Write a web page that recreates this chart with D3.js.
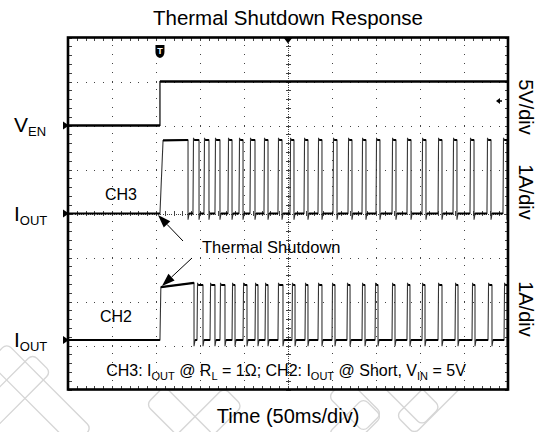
<!DOCTYPE html>
<html><head><meta charset="utf-8">
<script src="https://cdn.jsdelivr.net/npm/d3@7/dist/d3.min.js"></script>
<style>
html,body{margin:0;padding:0;background:#fff;}
svg{display:block;font-family:"Liberation Sans",Arial,Helvetica,sans-serif;}
</style></head>
<body>
<svg id="chart" width="544" height="432"></svg>
<script>
// ---------------- data ----------------
const timeDomainMs = [0, 500];            // 10 div x 50 ms/div
const divDomain = [-4, 4];                // 8 vertical divisions
const majorTimeTicks = [0, 50, 100, 150, 200, 250, 300, 350, 400, 450, 500];
const majorDivTicks = [-4, -3, -2, -1, 0, 1, 2, 3, 4];
const minorTimeStep = 10;
const minorDivStep = 0.2;

const channelNames = ["VEN", "CH3", "CH2"];
const channelOffsetDiv = [2, 0, -2.875];
const channelUnitsPerDiv = [5, 1, 1];
const channelScaleLabels = ["5V/div", "1A/div", "1A/div"];

const venStepMs = 104.5;
const venLevelsV = [0, 5];

// CH3: I_OUT @ RL = 1 ohm
const ch3FirstPulseMs = [104.5, 108, 136.4];   // rise start, rise end, fall
const ch3FirstPulseA = [1.66, 1.67];
const ch3RiseMs = [142.0,154.5,167.0,181.8,194.3,206.8,222.7,238.6,252.3,268.2,284.1,301.1,318.2,334.1,350.0,368.2,385.2,402.3,420.5,437.5,456.8,476.1,494.3];
const ch3FallMs = [148.9,160.2,172.7,186.4,198.9,212.5,227.3,243.2,256.8,272.7,288.6,305.7,322.7,338.6,354.5,372.7,389.8,406.8,425.0,442.0,461.4,480.7,498.9];
const ch3HighA = 1.67;

// CH2: I_OUT @ short
const ch2FirstPulseMs = [104.5, 105.5, 143.2];
const ch2FirstPulseA = [1.20, 1.30];
const ch2RiseMs = [146.6,161.4,172.7,186.4,198.9,212.5,223.9,238.6,254.5,269.3,284.1,300.0,317.0,334.1,348.9,368.2,385.2,402.3,420.5,439.8,459.1,477.3,495.5];
const ch2FallMs = [153.4,167.0,178.4,189.8,203.4,215.9,227.3,244.3,258.0,272.7,288.6,303.4,320.5,337.5,352.3,371.6,388.6,405.7,425.0,443.2,462.5,481.8,498.9];
const ch2HighA = 1.25;

// ---------------- drawing ----------------
const svg = d3.select("#chart");
const x = d3.scaleLinear().domain(timeDomainMs).range([68, 508]);
const y = d3.scaleLinear().domain(divDomain).range([389.5, 37.5]);
const X0 = x.range()[0], X1 = x.range()[1];
const Y0 = y.range()[1], Y1 = y.range()[0];
const minorT = d3.range(timeDomainMs[0], timeDomainMs[1] + 0.001, minorTimeStep);
const minorD = d3.range(divDomain[0], divDomain[1] + 0.001, minorDivStep).map(v => +v.toFixed(2));
const sig = (ch, v) => y(channelOffsetDiv[ch] + v / channelUnitsPerDiv[ch]);

// faint background watermark (decoration)
const wm = svg.append("g").attr("fill", "none").attr("stroke", "#d6d6d6").attr("stroke-width", 1.4);
const wmBands = [
  [40, 395, 45, 120], [10, 395, -45, 90], [205, 425, -45, 80], [180, 420, 45, 70],
  [355, 405, 45, 50], [355, 425, -45, 50], [430, 400, -45, 70], [410, 395, 45, 60]
];
wmBands.forEach(b => {
  wm.append("rect").attr("x", -b[3] / 2).attr("y", -13).attr("width", b[3]).attr("height", 26).attr("rx", 6)
    .attr("transform", `translate(${b[0]},${b[1]}) rotate(${b[2]})`);
});

// plot background
svg.append("rect").attr("x", X0).attr("y", Y0).attr("width", X1 - X0).attr("height", Y1 - Y0).attr("fill", "#fff");

const gridColor = "#444";
function styleAxis(g, dash) {
  g.select(".domain").remove();
  g.selectAll("text").remove();
  g.selectAll("line").attr("stroke", gridColor).attr("stroke-width", 1)
    .attr("stroke-dasharray", dash || null).attr("shape-rendering", "crispEdges");
}

// major grid (dotted)
svg.append("g").attr("transform", `translate(0,${Y1})`)
  .call(d3.axisBottom(x).tickValues(majorTimeTicks.filter(t => t > 0 && t < 500 && t !== 250)).tickSize(-(Y1 - Y0)).tickFormat(""))
  .call(g => styleAxis(g, "1 7.8"));
svg.append("g").attr("transform", `translate(${X0},0)`)
  .call(d3.axisLeft(y).tickValues(majorDivTicks.filter(d => d > -4 && d < 4 && d !== 0)).tickSize(-(X1 - X0)).tickFormat(""))
  .call(g => styleAxis(g, "1 7.8"));

// center cross lines (dense) with minor ticks
svg.append("g").attr("transform", `translate(0,${Y1})`)
  .call(d3.axisBottom(x).tickValues([250]).tickSize(-(Y1 - Y0)).tickFormat(""))
  .call(g => styleAxis(g, "1 1.2"));
svg.append("g").attr("transform", `translate(${X0},0)`)
  .call(d3.axisLeft(y).tickValues([0]).tickSize(-(X1 - X0)).tickFormat(""))
  .call(g => styleAxis(g, "1 1.2"));
[d3.axisLeft, d3.axisRight].forEach(a => {
  svg.append("g").attr("transform", `translate(${x(250)},0)`)
    .call(a(y).tickValues(minorD).tickSize(2.5).tickFormat("")).call(g => styleAxis(g));
});
[d3.axisTop, d3.axisBottom].forEach(a => {
  svg.append("g").attr("transform", `translate(0,${y(0)})`)
    .call(a(x).tickValues(minorT).tickSize(2.5).tickFormat("")).call(g => styleAxis(g));
});

// frame minor ticks (inward)
svg.append("g").attr("transform", `translate(0,${Y0})`).call(d3.axisTop(x).tickValues(minorT).tickSize(-3.5).tickFormat("")).call(g => styleAxis(g));
svg.append("g").attr("transform", `translate(0,${Y1})`).call(d3.axisBottom(x).tickValues(minorT).tickSize(-3.5).tickFormat("")).call(g => styleAxis(g));
svg.append("g").attr("transform", `translate(${X0},0)`).call(d3.axisLeft(y).tickValues(minorD).tickSize(-3.5).tickFormat("")).call(g => styleAxis(g));
svg.append("g").attr("transform", `translate(${X1},0)`).call(d3.axisRight(y).tickValues(minorD).tickSize(-3.5).tickFormat("")).call(g => styleAxis(g));

// clip
svg.append("clipPath").attr("id", "plotclip").append("rect")
  .attr("x", X0).attr("y", Y0).attr("width", X1 - X0).attr("height", Y1 - Y0);
const traces = svg.append("g").attr("clip-path", "url(#plotclip)");

const undershoot = 0.14, overshoot = 0.05;
function pulseTrain(first, firstLv, rises, falls, high) {
  const pts = [[0, 0], [first[0], 0], [first[1], firstLv[0]], [first[2], firstLv[1]], [first[2], -undershoot], [first[2] + 1.2, 0]];
  rises.forEach((r, i) => {
    const f = falls[i];
    pts.push([r, 0], [r + 0.6, high + overshoot], [r + 1.4, high], [f, high], [f, -undershoot], [f + 1.2, 0]);
  });
  const out = pts.filter(p => p[0] <= timeDomainMs[1]);
  out.push([timeDomainMs[1], out[out.length - 1][1] > 0.5 ? high : 0]);
  return out;
}
function flats(first, firstLv, rises, falls, high) {
  const segs = [[[0, 0], [first[0], 0]], [[first[1], firstLv[0]], [first[2], firstLv[1]]]];
  let lastEnd = first[2] + 1.2;
  rises.forEach((r, i) => {
    segs.push([[lastEnd, 0], [r, 0]]);
    segs.push([[r + 1.4, high], [falls[i], high]]);
    lastEnd = falls[i] + 1.2;
  });
  if (lastEnd < timeDomainMs[1]) segs.push([[lastEnd, 0], [timeDomainMs[1], 0]]);
  return segs;
}

function drawChannel(ch, pts, segs) {
  const line = d3.line().x(d => x(d[0])).y(d => sig(ch, d[1]));
  traces.append("path").attr("d", line(pts)).attr("fill", "none").attr("stroke", "#333").attr("stroke-width", 1.1);
  segs.forEach(s => {
    traces.append("path").attr("d", line(s)).attr("fill", "none").attr("stroke", "#000").attr("stroke-width", 2.2);
  });
}

// VEN
const venPts = [[timeDomainMs[0], venLevelsV[0]], [venStepMs, venLevelsV[0]], [venStepMs, venLevelsV[1]], [timeDomainMs[1], venLevelsV[1]]];
const venLine = d3.line().x(d => x(d[0])).y(d => sig(0, d[1]));
traces.append("path").attr("d", venLine(venPts)).attr("fill", "none").attr("stroke", "#000").attr("stroke-width", 1.2);
traces.append("path").attr("d", venLine(venPts.slice(0, 2))).attr("fill", "none").attr("stroke", "#000").attr("stroke-width", 2.6);
traces.append("path").attr("d", venLine(venPts.slice(2))).attr("fill", "none").attr("stroke", "#000").attr("stroke-width", 2.4);

drawChannel(1, pulseTrain(ch3FirstPulseMs, ch3FirstPulseA, ch3RiseMs, ch3FallMs, ch3HighA), flats(ch3FirstPulseMs, ch3FirstPulseA, ch3RiseMs, ch3FallMs, ch3HighA));
drawChannel(2, pulseTrain(ch2FirstPulseMs, ch2FirstPulseA, ch2RiseMs, ch2FallMs, ch2HighA), flats(ch2FirstPulseMs, ch2FirstPulseA, ch2RiseMs, ch2FallMs, ch2HighA));

// frame
svg.append("rect").attr("x", X0).attr("y", Y0).attr("width", X1 - X0).attr("height", Y1 - Y0)
  .attr("fill", "none").attr("stroke", "#000").attr("stroke-width", 2.6);

// channel ground markers on the left
channelOffsetDiv.forEach((o, i) => {
  const yy = y(o);
  svg.append("path").attr("d", `M${X0 - 5},${yy - 4}L${X0 + 1},${yy}L${X0 - 5},${yy + 4}Z`).attr("fill", "#000");
});
// top center marker
svg.append("path").attr("d", `M${x(250) - 4.5},${Y0}L${x(250) + 4.5},${Y0}L${x(250)},${Y0 + 6}Z`).attr("fill", "#000");
// trigger marker
const tx = x(venStepMs);
svg.append("path").attr("d", `M${tx - 4.5},45h9v7q0,5 -4.5,6q-4.5,-1 -4.5,-6Z`).attr("fill", "#000");
svg.append("text").attr("x", tx).attr("y", 54).attr("text-anchor", "middle").attr("font-size", 9).attr("font-weight", "bold").attr("fill", "#fff").text("T");
// trigger level marker on right
const ty = 101;
svg.append("path").attr("d", `M${X1 - 12},${ty}L${X1 - 8},${ty - 3}L${X1 - 8},${ty + 3}Z`).attr("fill", "#000");
svg.append("line").attr("x1", X1 - 9).attr("x2", X1 - 6).attr("y1", ty).attr("y2", ty).attr("stroke", "#000").attr("stroke-width", 1.5);

// annotation arrows
function arrow(x1, y1, x2, y2) {
  const ang = Math.atan2(y2 - y1, x2 - x1), L = 13, Wd = 4.5;
  const bx = x2 - L * Math.cos(ang), by = y2 - L * Math.sin(ang);
  svg.append("line").attr("x1", x1).attr("y1", y1).attr("x2", bx).attr("y2", by).attr("stroke", "#000").attr("stroke-width", 1);
  const px = -Math.sin(ang) * Wd, py = Math.cos(ang) * Wd;
  svg.append("path").attr("d", `M${x2},${y2}L${bx + px},${by + py}L${bx - px},${by - py}Z`).attr("fill", "#000");
}
arrow(183, 241, 158, 215);
arrow(192, 258, 162, 286);

// ---------------- texts ----------------
const T = (xx, yy, size, anchor) => svg.append("text").attr("x", xx).attr("y", yy).attr("font-size", size).attr("text-anchor", anchor || "start").attr("fill", "#000");
T(288, 25, 20.5, "middle").text("Thermal Shutdown Response");
T(288, 423, 20, "middle").text("Time (50ms/div)");

function subLabel(xx, yy, main, sub) {
  const t = T(xx, yy, 21);
  t.append("tspan").text(main);
  t.append("tspan").attr("font-size", 13).attr("dy", 4).text(sub);
}
subLabel(14, 132, "V", "EN");
subLabel(14, 220.5, "I", "OUT");
subLabel(14, 347, "I", "OUT");

T(105, 200, 16).text("CH3");
T(100, 322, 16).text("CH2");
T(202, 253, 16.5).text("Thermal Shutdown");

const ann = T(286, 376, 16, "middle");
const annParts = [["CH3: I", 0], ["OUT", 1], [" @ R", 0], ["L", 1], [" = 1\u03A9; CH2: I", 0], ["OUT", 1], [" @ Short, V", 0], ["IN", 1], [" = 5V", 0]];
let prevSub = 0;
annParts.forEach(p => {
  const ts = ann.append("tspan").text(p[0]);
  if (p[1] !== prevSub) ts.attr("dy", p[1] ? 4 : -4);
  if (p[1]) ts.attr("font-size", 11);
  prevSub = p[1];
});

const rightLabelY = [107, 192, 309];
channelScaleLabels.forEach((lab, i) => {
  svg.append("text").attr("transform", `translate(519,${rightLabelY[i]}) rotate(90)`)
    .attr("text-anchor", "middle").attr("font-size", 20).attr("fill", "#000").text(lab);
});
</script>
</body></html>
